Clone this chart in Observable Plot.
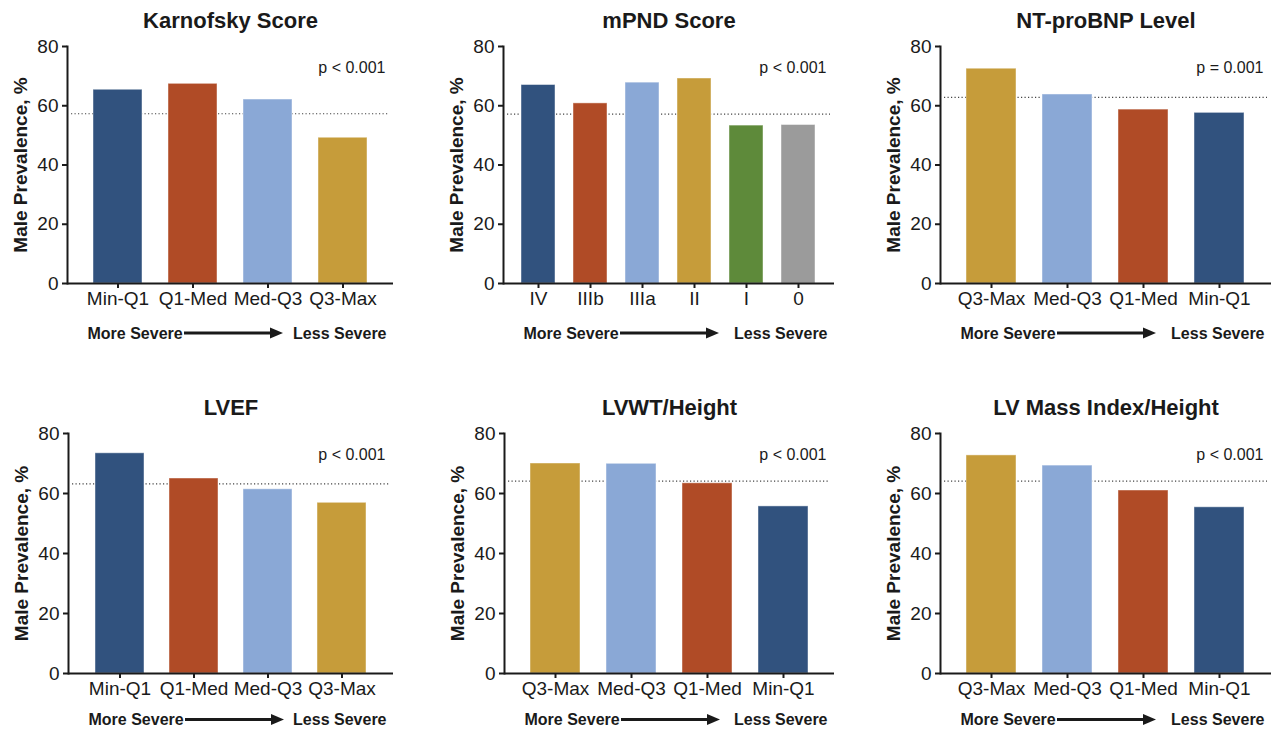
<!DOCTYPE html>
<html>
<head>
<meta charset="utf-8">
<script src="https://cdn.jsdelivr.net/npm/d3@7"></script>
<script src="https://cdn.jsdelivr.net/npm/@observablehq/plot@0.6"></script>
<style>
  html, body { margin: 0; padding: 0; background: #fff; }
  #root { position: relative; width: 1272px; height: 729px; overflow: hidden; background: #fff; }
  #root svg { position: absolute; }
</style>
</head>
<body>
<div id="root"></div>
<script>
// ---------- data ----------
const titles = ["Karnofsky Score", "mPND Score", "NT-proBNP Level", "LVEF", "LVWT/Height", "LV Mass Index/Height"];
const quartilesAsc = ["Min-Q1", "Q1-Med", "Med-Q3", "Q3-Max"];
const quartilesDesc = ["Q3-Max", "Med-Q3", "Q1-Med", "Min-Q1"];
const mpndClasses = ["IV", "IIIb", "IIIa", "II", "I", "0"];

const karnofskyValues = [65.4, 67.4, 62.1, 49.2];
const mpndValues = [67.0, 60.8, 67.8, 69.2, 53.3, 53.5];
const ntprobnpValues = [72.5, 63.8, 58.7, 57.6];
const lvefValues = [73.4, 65.0, 61.4, 56.9];
const lvwtValues = [70.0, 69.9, 63.4, 55.7];
const lvmassValues = [72.7, 69.3, 61.0, 55.4];

const overallPrevalence = [57.3, 57.2, 62.8, 63.2, 64.1, 64.1];
const pValues = ["p < 0.001", "p < 0.001", "p = 0.001", "p < 0.001", "p < 0.001", "p < 0.001"];
const yTicks = [0, 20, 40, 60, 80];
const yLabel = "Male Prevalence, %";
const moreLabel = "More Severe";
const lessLabel = "Less Severe";

// colours by category name
const quartileColors = {"Min-Q1": "#31527e", "Q1-Med": "#b04b26", "Med-Q3": "#8aa8d6", "Q3-Max": "#c69c3a"};
const mpndColors = {"IV": "#31527e", "IIIb": "#b04b26", "IIIa": "#8aa8d6", "II": "#c69c3a", "I": "#5e8a3a", "0": "#9b9b9b"};

const FONT = '"Liberation Sans", Arial, Helvetica, sans-serif';
const INK = "#1a1a1a";

// ---------- layout ----------
const layout = [
  {left: 67,  top: 46,    W: 326, H: 237, sev: 50},
  {left: 503, top: 46,    W: 331, H: 237, sev: 50},
  {left: 940, top: 46,    W: 331, H: 237, sev: 50},
  {left: 68,  top: 433.3, W: 325, H: 240, sev: 46.5},
  {left: 504, top: 433.3, W: 330, H: 240, sev: 46.5},
  {left: 940, top: 433.3, W: 331, H: 240, sev: 46.5}
];

const panels = [
  {cats: quartilesAsc, values: karnofskyValues, colors: quartileColors},
  {cats: mpndClasses, values: mpndValues, colors: mpndColors},
  {cats: quartilesDesc, values: ntprobnpValues, colors: quartileColors},
  {cats: quartilesAsc, values: lvefValues, colors: quartileColors},
  {cats: quartilesDesc, values: lvwtValues, colors: quartileColors},
  {cats: quartilesDesc, values: lvmassValues, colors: quartileColors}
];

const root = document.getElementById("root");

panels.forEach((p, i) => {
  const L = layout[i];
  const mL = 66, mR = 3, mT = 46, mB = 70;
  const data = p.cats.map((c, j) => ({cat: c, value: p.values[j]}));
  const svg = Plot.plot({
    width: mL + L.W + mR,
    height: mT + L.H + mB,
    marginLeft: mL, marginRight: mR, marginTop: mT, marginBottom: mB,
    style: {fontFamily: FONT, color: INK, background: "transparent", overflow: "visible"},
    x: {domain: p.cats, padding: 0.34, label: null},
    y: {domain: [0, 80], label: null},
    color: {domain: p.cats, range: p.cats.map(c => p.colors[c])},
    marks: [
      Plot.ruleY([overallPrevalence[i]], {stroke: "#444", strokeWidth: 1.2, strokeDasharray: "1.2,2.3", insetLeft: 4, insetRight: 4}),
      Plot.barY(data, {x: "cat", y: "value", fill: "cat", stroke: "#ffffff", strokeOpacity: 0.45, strokeWidth: 1}),
      Plot.ruleY([0], {stroke: INK, strokeWidth: 2}),
      Plot.frame({anchor: "left", stroke: INK, strokeWidth: 2}),
      Plot.axisY({ticks: yTicks, tickSize: 5, tickPadding: 4, fontSize: 19, strokeWidth: 2, label: null}),
      Plot.axisX({tickSize: 5, tickPadding: 3, fontSize: 19, strokeWidth: 2, label: null}),
      Plot.text([titles[i]], {frameAnchor: "top", dy: -26, fontSize: 22, fontWeight: "bold", lineAnchor: "middle"}),
      Plot.text([pValues[i]], {frameAnchor: "top-right", dx: -8, dy: 21, fontSize: 16, textAnchor: "end", lineAnchor: "middle"}),
      Plot.text([yLabel], {frameAnchor: "left", dx: -47, rotate: -90, fontSize: 19, fontWeight: "bold", textAnchor: "middle", lineAnchor: "middle"}),
      Plot.text([moreLabel], {frameAnchor: "bottom-left", dx: 20, dy: L.sev, fontSize: 16, fontWeight: "bold", textAnchor: "start", lineAnchor: "middle"}),
      Plot.text([lessLabel], {frameAnchor: "bottom-right", dx: -7, dy: L.sev, fontSize: 16, fontWeight: "bold", textAnchor: "end", lineAnchor: "middle"})
    ]
  });
  svg.style.left = (L.left - mL) + "px";
  svg.style.top = (L.top - mT) + "px";
  // arrow decoration between the two severity labels
  const fx = mL, fy = mT + L.H + L.sev;
  const g = d3.select(svg).append("g").attr("fill", INK).attr("stroke", INK);
  g.append("line").attr("x1", fx + 117).attr("x2", fx + 204).attr("y1", fy).attr("y2", fy).attr("stroke-width", 3);
  g.append("path").attr("stroke", "none")
    .attr("d", `M${fx + 203},${fy - 5.5}L${fx + 216},${fy}L${fx + 203},${fy + 5.5}Z`);
  root.appendChild(svg);
});
</script>
</body>
</html>
